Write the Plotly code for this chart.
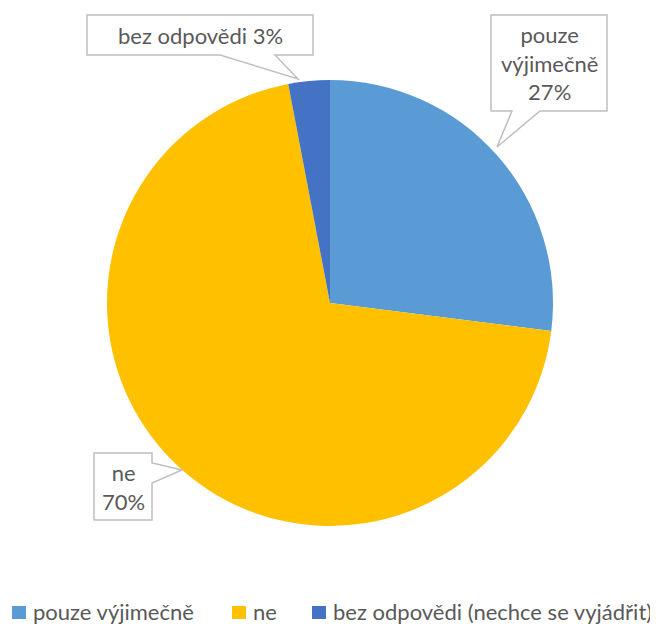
import plotly.graph_objects as go

categories = ["pouze výjimečně", "ne", "bez odpovědi (nechce se vyjádřit)"]
values = [27, 70, 3]
colors = ["#5B9BD5", "#FFC000", "#4472C4"]
callout_texts = ["pouze<br>výjimečně<br>27%", "ne<br>70%", "bez odpovědi 3%"]

OFF = 8  # page body margin
W, H = 658 - OFF, 627
FONT = "Lato, 'Open Sans', sans-serif"
TXT = "#595959"
BORDER = "#BFBFBF"

def px(x):
    return (x - OFF) / W

def py(y):
    return 1 - (y - OFF) / H

fig = go.Figure()
fig.add_trace(go.Pie(
    labels=categories,
    values=values,
    marker=dict(colors=colors, line=dict(width=0)),
    sort=False,
    direction="clockwise",
    rotation=0,
    textinfo="none",
    hoverinfo="label+percent",
    showlegend=False,
    domain=dict(x=[px(107), px(553)], y=[py(526), py(80)]),
))

# callout boxes (pixel layout geometry -> paper coords)
callouts = [
    ([(491, 15), (607, 15), (607, 111), (540, 111), (497, 147), (512, 111), (491, 111)], (549, 63)),
    ([(94, 453), (152, 453), (152, 463), (182, 470), (152, 483), (152, 520), (94, 520)], (123, 487)),
    ([(87, 15), (313, 15), (313, 55), (275, 55), (298, 79), (220, 55), (87, 55)], (200, 35)),
]
shapes = []
annotations = []
for (pts, (cx, cy)), txt in zip(callouts, callout_texts):
    path = "M " + " L ".join(f"{px(x):.5f},{py(y):.5f}" for x, y in pts) + " Z"
    shapes.append(dict(type="path", path=path, xref="paper", yref="paper",
                       line=dict(color=BORDER, width=1.5), fillcolor="white", layer="above"))
    annotations.append(dict(text=txt, x=px(cx), y=py(cy), xref="paper", yref="paper",
                            xanchor="center", yanchor="middle", showarrow=False,
                            font=dict(family=FONT, size=22, color=TXT), align="center"))

# manual legend
legend_x = [12, 232, 312]
for lx, cat, col in zip(legend_x, categories, colors):
    shapes.append(dict(type="rect", xref="paper", yref="paper",
                       x0=px(lx), x1=px(lx + 14), y0=py(619), y1=py(606),
                       fillcolor=col, line=dict(width=0)))
    annotations.append(dict(text=cat, x=px(lx + 19), y=py(611), xref="paper", yref="paper",
                            xanchor="left", yanchor="middle", showarrow=False,
                            font=dict(family=FONT, size=22, color=TXT)))

fig.update_layout(
    width=W, height=H,
    margin=dict(l=0, r=0, t=0, b=0),
    paper_bgcolor="white",
    plot_bgcolor="white",
    shapes=shapes,
    annotations=annotations,
)
fig.write_html("out.html")
